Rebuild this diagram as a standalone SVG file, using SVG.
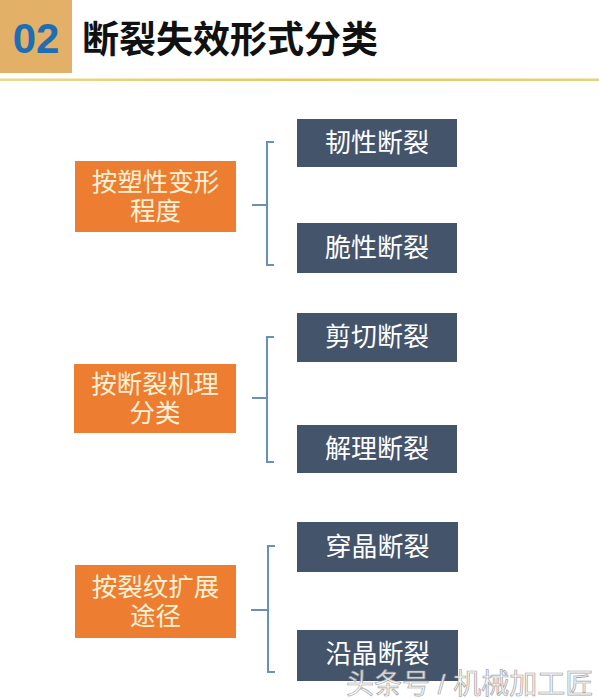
<svg xmlns="http://www.w3.org/2000/svg" width="599" height="699" viewBox="0 0 599 699">
<defs>
<style>
.cat{fill:#ED7D31}
.leaf{fill:#44546A}
.ct{font-family:"Liberation Sans","Noto Sans CJK SC",sans-serif;font-size:25.5px;fill:#FCF1D6;text-anchor:middle}
.lt{font-family:"Liberation Sans","Noto Sans CJK SC",sans-serif;font-size:26px;fill:#FFFFFF;text-anchor:middle}
.br{fill:none;stroke:#6A8FB8;stroke-width:2}
</style>
<linearGradient id="hl" x1="0" x2="1" y1="0" y2="0">
<stop offset="0" stop-color="#E9D98C"/>
<stop offset="0.5" stop-color="#E3C866"/>
<stop offset="1" stop-color="#E6D27A"/>
</linearGradient>
</defs>
<rect width="599" height="699" fill="#FFFFFF"/>
<g id="header">
<rect x="0" y="0" width="72" height="73" fill="#E2B066"/>
<text x="36" y="53" font-family="Liberation Sans,Arial,sans-serif" font-weight="bold" font-size="42" fill="#1F6DB3" text-anchor="middle">02</text>
<text x="82" y="53" font-family="Noto Sans CJK SC,sans-serif" font-weight="bold" font-size="37" fill="#111111">断裂失效形式分类</text>
<rect x="0" y="78.5" width="599" height="2.5" fill="url(#hl)"/>
</g>
<g id="connectors">
<path class="br" d="M274 142 H267 V265 H274 M252 205 H267"/>
<path class="br" d="M274 337 H267 V462 H274 M252 398 H267"/>
<path class="br" d="M275 546 H268 V672 H275 M251 610 H268"/>
</g>
<g id="cat1"><rect class="cat" x="75" y="161" width="161" height="71"/><text class="ct"><tspan x="155.5" y="191">按塑性变形</tspan><tspan x="155.5" y="220">程度</tspan></text></g>
<g id="cat2"><rect class="cat" x="74" y="364" width="162" height="69"/><text class="ct"><tspan x="155" y="393">按断裂机理</tspan><tspan x="155" y="422">分类</tspan></text></g>
<g id="cat3"><rect class="cat" x="75" y="565" width="161" height="73"/><text class="ct"><tspan x="155.5" y="596">按裂纹扩展</tspan><tspan x="155.5" y="625">途径</tspan></text></g>
<g id="leaf1"><rect class="leaf" x="297" y="119" width="160" height="48"/><text class="lt" x="377" y="152">韧性断裂</text></g>
<g id="leaf2"><rect class="leaf" x="297" y="223" width="160" height="50"/><text class="lt" x="377" y="257">脆性断裂</text></g>
<g id="leaf3"><rect class="leaf" x="297" y="313" width="160" height="49"/><text class="lt" x="377" y="346">剪切断裂</text></g>
<g id="leaf4"><rect class="leaf" x="297" y="425" width="160" height="48"/><text class="lt" x="377" y="458">解理断裂</text></g>
<g id="leaf5"><rect class="leaf" x="297" y="522" width="161" height="50"/><text class="lt" x="377.5" y="556">穿晶断裂</text></g>
<g id="leaf6"><rect class="leaf" x="297" y="630" width="161" height="51"/><text class="lt" x="377.5" y="663">沿晶断裂</text></g>
<g id="watermark"><text x="346" y="694" font-family="Liberation Sans,Noto Sans CJK SC,sans-serif" font-size="28" fill="#F6F6F6" stroke="#9A9A9A" stroke-width="0.7" opacity="0.9">头条号 / 机械加工匠</text></g>
</svg>
